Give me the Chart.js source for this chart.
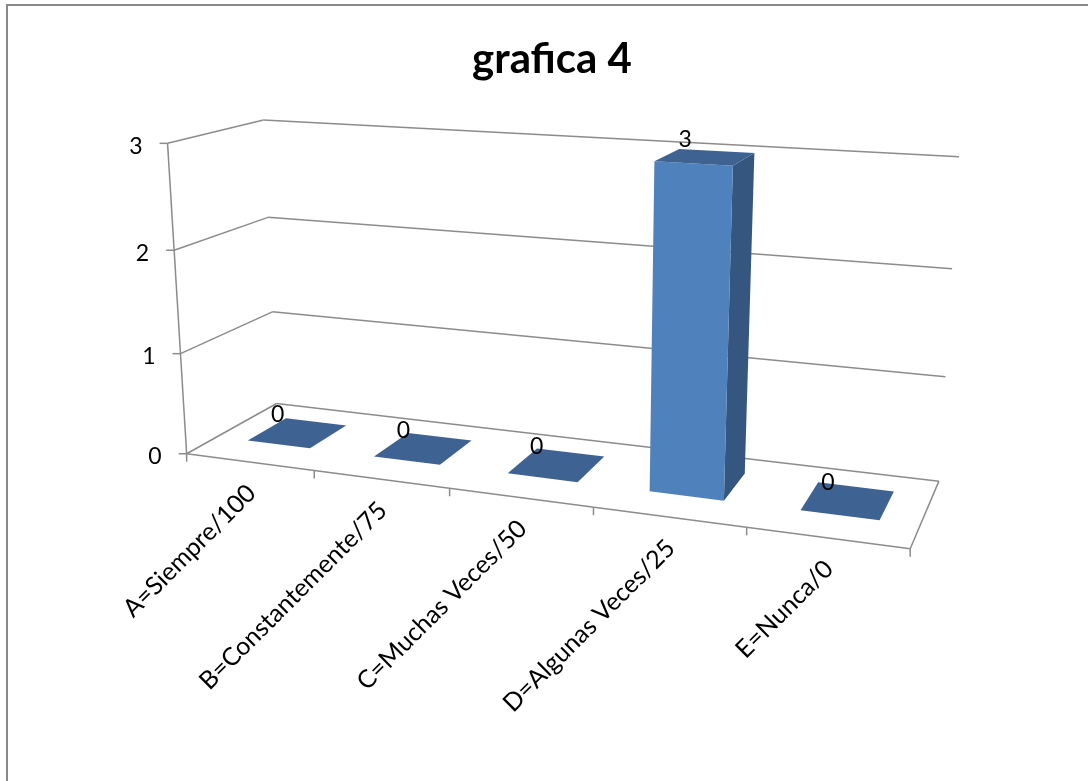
<!DOCTYPE html>
<html>
<head>
<meta charset="utf-8">
<script src="https://cdn.jsdelivr.net/npm/chart.js@4.4.1/dist/chart.umd.min.js"></script>
<style>
  html, body { margin: 0; padding: 0; background: #fff; }
  canvas { display: block; }
</style>
</head>
<body>
<canvas id="chart" width="1088" height="781"></canvas>
<script>
const categories = ['A=Siempre/100', 'B=Constantemente/75', 'C=Muchas Veces/50', 'D=Algunas Veces/25', 'E=Nunca/0'];
const counts = [0, 0, 0, 3, 0];
const yMax = 3;

// corners of the 3d box as seen in the picture: [cat, value, depth, px, py]
// used only to fit the perspective camera
const calib = [
  [0, 0, 0, 187, 453], [1, 0, 0, 314, 472], [2, 0, 0, 449, 490], [3, 0, 0, 593, 508],
  [4, 0, 0, 747, 528], [5, 0, 0, 910, 547], [0, 0, 1, 276, 403], [5, 0, 1, 939, 480],
  [0, 1, 0, 181, 352], [0, 2, 0, 175, 250], [0, 3, 0, 167, 143],
  [0, 1, 1, 273, 312], [0, 2, 1, 268, 218], [0, 3, 1, 263, 120],
  [5, 1, 1, 946, 377], [5, 2, 1, 952, 269], [5, 3, 1, 959, 157],
];

// bar depth inside the box (0 = front, 1 = back wall)
const Z0 = 0.32, Z1 = 0.76;

const C_FRONT = '#4f81bd', C_SIDE = '#34567f', C_TOP = '#3e6392';
const C_GRID = '#8c8c8c';
const FONT = 'Lato, "Open Sans", sans-serif';

function solve(M) {
  const n = M.length;
  for (let c = 0; c < n; c++) {
    let p = c;
    for (let r = c + 1; r < n; r++) if (Math.abs(M[r][c]) > Math.abs(M[p][c])) p = r;
    [M[c], M[p]] = [M[p], M[c]];
    for (let r = 0; r < n; r++) {
      if (r === c) continue;
      const f = M[r][c] / M[c][c];
      for (let k = c; k <= n; k++) M[r][k] -= f * M[c][k];
    }
  }
  return M.map((row, i) => row[n] / row[i]);
}

// least squares DLT, p11 fixed to 1
function fitCamera(pts) {
  const rows = [], rhs = [];
  for (const [X, Y, Z, u0, v0] of pts) {
    const u = u0 / 1000, v = v0 / 1000;
    rows.push([X, Y, Z, 1, 0, 0, 0, 0, -u * X, -u * Y, -u * Z]); rhs.push(u);
    rows.push([0, 0, 0, 0, X, Y, Z, 1, -v * X, -v * Y, -v * Z]); rhs.push(v);
  }
  const n = 11;
  const M = Array.from({ length: n }, () => new Array(n + 1).fill(0));
  for (let r = 0; r < rows.length; r++) {
    for (let i = 0; i < n; i++) {
      for (let j = 0; j < n; j++) M[i][j] += rows[r][i] * rows[r][j];
      M[i][n] += rows[r][i] * rhs[r];
    }
  }
  return solve(M);
}

const cam = fitCamera(calib);

function proj(X, Y, Z) {
  const p = cam;
  const w = p[8] * X + p[9] * Y + p[10] * Z + 1;
  return {
    x: (p[0] * X + p[1] * Y + p[2] * Z + p[3]) / w * 1000,
    y: (p[4] * X + p[5] * Y + p[6] * Z + p[7]) / w * 1000,
  };
}

function poly(ctx, pts, fill) {
  ctx.beginPath();
  pts.forEach((q, i) => i ? ctx.lineTo(q.x, q.y) : ctx.moveTo(q.x, q.y));
  ctx.closePath();
  ctx.fillStyle = fill;
  ctx.fill();
}

function line(ctx, a, b) {
  ctx.beginPath();
  ctx.moveTo(a.x, a.y);
  ctx.lineTo(b.x, b.y);
  ctx.stroke();
}

const box3d = {
  id: 'box3d',
  afterDraw(chart) {
    const ctx = chart.ctx;
    const xs = chart.scales.x, ys = chart.scales.y;
    const n = categories.length;
    const toX = px => xs.getDecimalForPixel(px) * n;
    const toY = py => ys.getValueForPixel(py);

    ctx.save();
    // frame of the chart object
    ctx.fillStyle = '#898989';
    ctx.fillRect(6, 4, 2, 781);
    ctx.fillRect(6, 4, 1088, 2);

    ctx.strokeStyle = C_GRID;
    ctx.lineWidth = 1.5;

    // gridlines on side wall + back wall
    ys.ticks.forEach(t => {
      const v = t.value;
      line(ctx, proj(0, v, 0), proj(0, v, 1));
      line(ctx, proj(0, v, 1), proj(n, v, 1));
      // tick mark on value axis
      const a = proj(0, v, 0);
      line(ctx, a, { x: a.x - 8, y: a.y });
    });
    // value axis + floor outline
    line(ctx, proj(0, 0, 0), proj(0, yMax, 0));
    line(ctx, proj(0, 0, 0), proj(n, 0, 0));
    line(ctx, proj(n, 0, 0), proj(n, 0, 1));
    for (let i = 0; i <= n; i++) {
      const a = proj(i, 0, 0);
      line(ctx, a, { x: a.x, y: a.y + 8 });
    }

    // bars
    const meta = chart.getDatasetMeta(0);
    meta.data.forEach((bar, i) => {
      const x0 = toX(bar.x - bar.width / 2), x1 = toX(bar.x + bar.width / 2);
      const top = toY(bar.y), base = toY(bar.base);
      if (top > base) {
        poly(ctx, [proj(x1, base, Z0), proj(x1, base, Z1), proj(x1, top, Z1), proj(x1, top, Z0)], C_SIDE);
        poly(ctx, [proj(x0, base, Z0), proj(x1, base, Z0), proj(x1, top, Z0), proj(x0, top, Z0)], C_FRONT);
      }
      poly(ctx, [proj(x0, top, Z0), proj(x1, top, Z0), proj(x1, top, Z1), proj(x0, top, Z1)], C_TOP);

      // value label
      const c = proj((x0 + x1) / 2, top, (Z0 + Z1) / 2);
      ctx.fillStyle = '#000';
      ctx.font = '23px ' + FONT;
      ctx.textAlign = 'center';
      ctx.textBaseline = 'middle';
      ctx.fillText(String(counts[i]), c.x - 20, c.y - 18);
    });

    // value axis labels
    ctx.fillStyle = '#000';
    ctx.font = '23px ' + FONT;
    ctx.textAlign = 'right';
    ctx.textBaseline = 'middle';
    ys.ticks.forEach(t => {
      const a = proj(0, t.value, 0);
      ctx.fillText(t.label, a.x - 25, a.y + 3);
    });

    // category labels, rotated 45 deg, anchored at their end
    ctx.font = '25px ' + FONT;
    categories.forEach((lab, i) => {
      const a = proj(i + 0.5, 0, 0);
      ctx.save();
      ctx.translate(a.x + 2, a.y + 27);
      ctx.rotate(-Math.PI / 4);
      ctx.textAlign = 'right';
      ctx.textBaseline = 'middle';
      ctx.fillText(lab, 0, 0);
      ctx.restore();
    });
    ctx.restore();
  }
};

new Chart(document.getElementById('chart'), {
  type: 'bar',
  data: {
    labels: categories,
    datasets: [{
      data: counts,
      backgroundColor: 'rgba(0,0,0,0)',
      borderWidth: 0,
      barPercentage: 0.5,
      categoryPercentage: 1,
    }],
  },
  options: {
    responsive: false,
    animation: false,
    devicePixelRatio: 1,
    layout: { padding: { left: 16 } },
    plugins: {
      legend: { display: false },
      tooltip: { enabled: false },
      title: {
        display: true,
        text: 'grafica 4',
        color: '#000',
        font: { family: FONT, size: 42, weight: 'bold' },
        padding: { top: 34, bottom: 10 },
      },
    },
    scales: {
      x: { display: false },
      y: { display: false, min: 0, max: yMax, ticks: { stepSize: 1 } },
    },
  },
  plugins: [box3d],
});
</script>
</body>
</html>
